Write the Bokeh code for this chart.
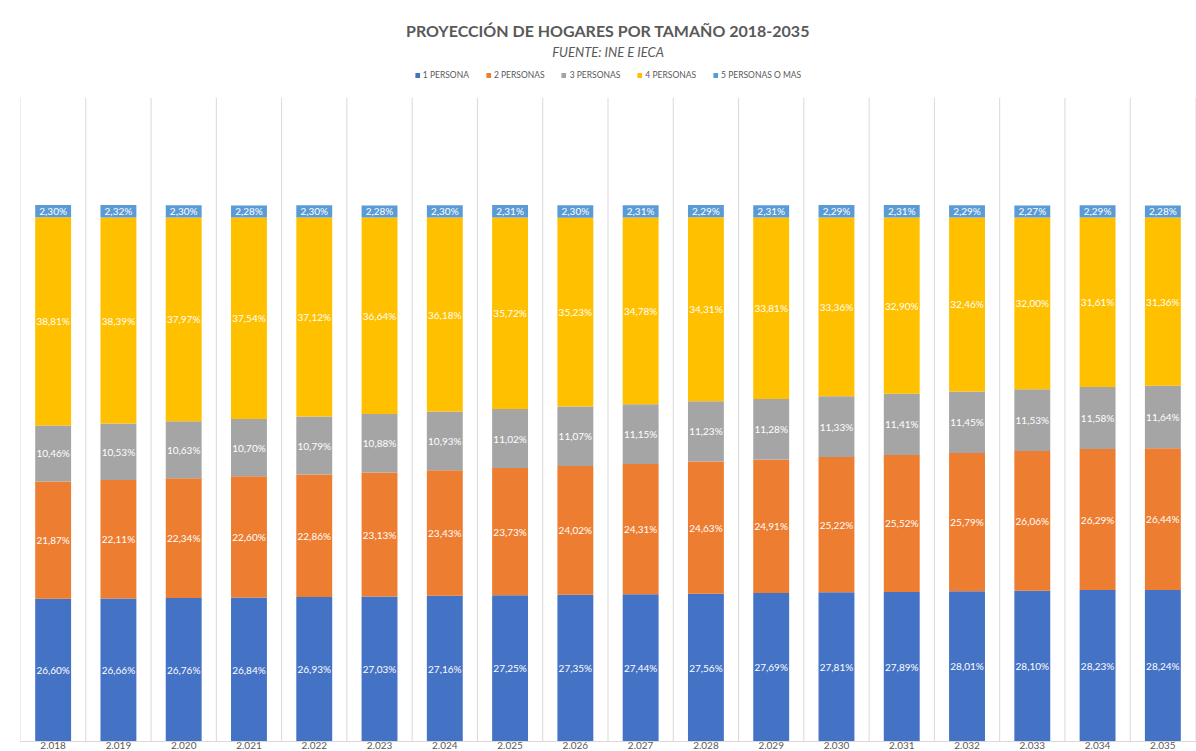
from bokeh.plotting import figure
from bokeh.models import ColumnDataSource, FixedTicker, Legend, LegendItem, Title
from bokeh.embed import file_html
from bokeh.resources import INLINE
from bokeh.core.properties import value

years = ["2.018", "2.019", "2.020", "2.021", "2.022", "2.023", "2.024", "2.025", "2.026",
         "2.027", "2.028", "2.029", "2.030", "2.031", "2.032", "2.033", "2.034", "2.035"]
series_names = ["1 PERSONA", "2 PERSONAS", "3 PERSONAS", "4 PERSONAS", "5 PERSONAS O MAS"]

persona_1 = [26.60, 26.66, 26.76, 26.84, 26.93, 27.03, 27.16, 27.25, 27.35,
             27.44, 27.56, 27.69, 27.81, 27.89, 28.01, 28.10, 28.23, 28.24]
personas_2 = [21.87, 22.11, 22.34, 22.60, 22.86, 23.13, 23.43, 23.73, 24.02,
              24.31, 24.63, 24.91, 25.22, 25.52, 25.79, 26.06, 26.29, 26.44]
personas_3 = [10.46, 10.53, 10.63, 10.70, 10.79, 10.88, 10.93, 11.02, 11.07,
              11.15, 11.23, 11.28, 11.33, 11.41, 11.45, 11.53, 11.58, 11.64]
personas_4 = [38.81, 38.39, 37.97, 37.54, 37.12, 36.64, 36.18, 35.72, 35.23,
              34.78, 34.31, 33.81, 33.36, 32.90, 32.46, 32.00, 31.61, 31.36]
personas_5 = [2.30, 2.32, 2.30, 2.28, 2.30, 2.28, 2.30, 2.31, 2.30,
              2.31, 2.29, 2.31, 2.29, 2.31, 2.29, 2.27, 2.29, 2.28]

series = [persona_1, personas_2, personas_3, personas_4, personas_5]
colors = ["#4472C4", "#ED7D31", "#A5A5A5", "#FFC000", "#5B9BD5"]
keys = ["s1", "s2", "s3", "s4", "s5"]

n = len(years)
xs = [i + 0.5 for i in range(n)]
Y_TOP = 120      # top of the value area (gridlines end here)
Y_MAX = 126.6    # extra room above for the legend

data = {"x": xs}
for k, s in zip(keys, series):
    data[k] = s
src = ColumnDataSource(data)

FONT = "Lato"
GRAY = "#595959"

p = figure(width=1196, height=751, x_range=(0, n), y_range=(0, Y_MAX),
           output_backend="svg", toolbar_location=None,
           min_border_left=20, min_border_right=1, min_border_top=62, min_border_bottom=0)

# category separator gridlines (drawn only over the value area)
bounds = list(range(n + 1))
p.segment(x0=bounds, y0=[0] * len(bounds), x1=bounds, y1=[Y_TOP] * len(bounds),
          line_color="#d9d9d9", line_width=1)

renderers = p.vbar_stack(keys, x="x", width=0.55, color=colors, line_color=None, source=src)

# data labels
lx, ly, lt = [], [], []
base = [0.0] * n
for s in series:
    for i in range(n):
        lx.append(xs[i])
        ly.append(base[i] + s[i] / 2)
        lt.append(f"{s[i]:.2f}".replace(".", ",") + "%")
        base[i] += s[i]
p.text(x=lx, y=ly, text=lt, text_color="white", text_font=value(FONT),
       text_font_size="10px", text_align="center", text_baseline="middle")

# axes / grid
p.yaxis.visible = False
p.ygrid.visible = False
p.xgrid.visible = False
p.xaxis.ticker = FixedTicker(ticks=xs)
p.xaxis.major_label_overrides = {x: y for x, y in zip(xs, years)}
p.xaxis.axis_line_color = "#d9d9d9"
p.xaxis.major_tick_line_color = None
p.xaxis.minor_tick_line_color = None
p.xaxis.major_tick_out = 0
p.xaxis.major_tick_in = 0
p.xaxis.major_label_standoff = 0
p.xaxis.major_label_text_font = FONT
p.xaxis.major_label_text_font_size = "10px"
p.xaxis.major_label_text_color = GRAY
p.outline_line_color = None

legend = Legend(items=[LegendItem(label=nm, renderers=[r]) for nm, r in zip(series_names, renderers)],
                orientation="horizontal", location="top_center",
                glyph_width=6, glyph_height=6, label_height=10, label_standoff=3, spacing=16,
                padding=0, margin=8, border_line_color=None, background_fill_alpha=0,
                label_text_font=FONT, label_text_font_size="8.5px", label_text_color=GRAY)
p.add_layout(legend, "center")

sub = Title(text="FUENTE: INE E IECA", align="center", text_font=FONT, text_font_size="13px",
            text_font_style="italic", text_color=GRAY, standoff=5)
p.add_layout(sub, "above")

p.title.text = "PROYECCIÓN DE HOGARES POR TAMAÑO 2018-2035"
p.title.align = "center"
p.title.text_font = FONT
p.title.text_font_size = "16px"
p.title.text_font_style = "bold"
p.title.text_color = GRAY
p.title.standoff = 0

open("out.html", "w").write(file_html(p, INLINE))
